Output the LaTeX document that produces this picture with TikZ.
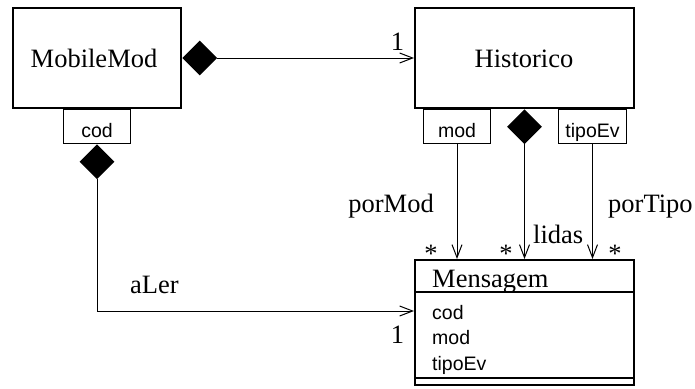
\documentclass[tikz,border=0pt]{standalone}
\usepackage{fontspec}
\setmainfont{Liberation Serif}
\newfontfamily\attrfont{Liberation Sans}
\usetikzlibrary{shapes.geometric,arrows.meta}
\begin{document}
\begin{tikzpicture}[x=1pt,y=-1pt,
  classbox/.style={draw, line width=2pt, inner sep=0pt},
  qualbox/.style={draw, line width=1pt, minimum width=67pt, minimum height=34pt, inner sep=0pt, anchor=north},
  comp/.style={diamond, aspect=1, fill=black, draw=none, minimum width=35pt, minimum height=35pt, inner sep=0pt},
  conn/.style={line width=1pt},
  nav/.style={conn, -{Straight Barb[length=13pt,width=10pt]}},
  serif/.style={font=\fontsize{26.5}{30}\selectfont, inner sep=0pt},
  attr/.style={font=\attrfont\fontsize{19.5}{23}\selectfont, inner sep=0pt}]
\fill[white] (0,0) rectangle (695,388);
\useasboundingbox (0,0) rectangle (695,388);

% classes
\node[classbox, minimum width=168pt, minimum height=100pt] (mobile) at (97,58) {};
\node[serif, anchor=base] (mobilet) at (94,67) {MobileMod};
\node[classbox, minimum width=219pt, minimum height=100pt] (hist) at (524.5,58) {};
\node[serif, anchor=base] (histt) at (524,67) {Historico};
\node[classbox, minimum width=219pt, minimum height=125pt] (msg) at (524.5,322.5) {};
\node[serif, anchor=base west] (msgt) at (432,287) {Mensagem};
\draw[line width=2pt] ([yshift=-33pt]msg.north west) -- ([yshift=-33pt]msg.north east);
\draw[line width=2pt] ([yshift=8pt]msg.south west) -- ([yshift=8pt]msg.south east);
\node[attr, anchor=base west] (a1) at (432,319) {cod};
\node[attr, anchor=base west] (a2) at (432,344.5) {mod};
\node[attr, anchor=base west] (a3) at (432,370) {tipoEv};

% qualifiers
\node[qualbox] (codq) at (mobile.south) {};
\node[attr, anchor=base] (codqt) at ([yshift=7pt]codq.south) {cod};
\node[qualbox] (modq) at ([xshift=-67.5pt]hist.south) {};
\node[attr, anchor=base] (modqt) at ([yshift=7pt]modq.south) {mod};
\node[qualbox, minimum width=68pt] (tipoq) at ([xshift=68pt]hist.south) {};
\node[attr, anchor=base] (tipoqt) at ([yshift=7pt]tipoq.south) {tipoEv};

% composition diamonds
\node[comp, anchor=north] (dia1) at (codq.south) {};
\node[comp, anchor=west] (dia2) at (mobile.east) {};
\node[comp, anchor=north] (dia3) at (hist.south) {};

% connectors
\draw[nav] (dia2.east) -- (hist.west);
\draw[nav] (dia1.south) |- ([yshift=11.5pt]msg.west);
\draw[nav] (modq.south) -- (modq.south |- msg.north);
\draw[nav] (dia3.south) -- (dia3.south |- msg.north);
\draw[nav] (tipoq.south) -- (tipoq.south |- msg.north);

% labels
\node[serif, anchor=base] (m1) at (397.5,50) {1};
\node[serif, anchor=base] (m2) at (397.5,343) {1};
\node[serif, anchor=base west] (laler) at (130,293) {aLer};
\node[serif, anchor=base east] (lpormod) at (434,212) {porMod};
\node[serif, anchor=base west] (lportipo) at (608,212) {porTipo};
\node[serif, anchor=base west] (llidas) at (533,243) {lidas};
\node[serif, anchor=base] (s1) at (431,262.5) {*};
\node[serif, anchor=base] (s2) at (506,262.5) {*};
\node[serif, anchor=base] (s3) at (615,262.5) {*};
\end{tikzpicture}
\end{document}
